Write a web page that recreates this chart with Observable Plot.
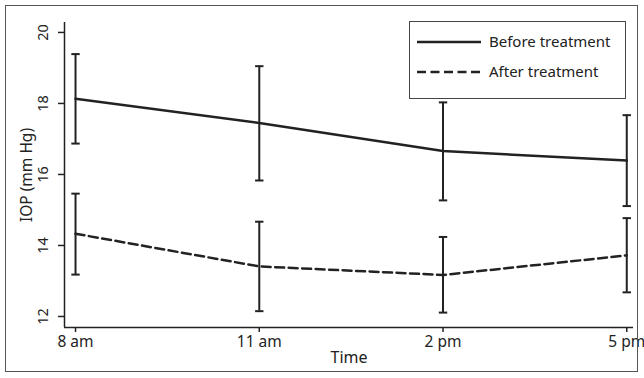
<!DOCTYPE html>
<html>
<head>
<meta charset="utf-8">
<script src="https://cdn.jsdelivr.net/npm/d3@7"></script>
<script src="https://cdn.jsdelivr.net/npm/@observablehq/plot@0.6"></script>
<style>
  html, body { margin: 0; padding: 0; background: #fff; }
  #wrap { position: relative; width: 644px; height: 378px; overflow: hidden; font-family: "Noto Sans", sans-serif; }
  #frame { position: absolute; left: 5px; top: 5px; width: 631px; height: 365px; border: 1.5px solid #555; pointer-events: none; }
  #legend { position: absolute; left: 409px; top: 21px; width: 215px; height: 76px; border: 1.5px solid #444; background: #fff; }
  #legend svg { position: absolute; left: 0; top: 0; }
  #legend .row { position: absolute; left: 79px; font-size: 15px; color: #222; line-height: 18px; }
  #chart { position: absolute; left: 0; top: 0; }
</style>
</head>
<body>
<div id="wrap">
  <div id="chart"></div>
  <div id="frame"></div>
  <div id="legend">
    <svg width="215" height="76">
      <line x1="7" x2="71" y1="20" y2="20" stroke="#222" stroke-width="2.5"/>
      <line x1="7" x2="71" y1="50" y2="50" stroke="#222" stroke-width="2.5" stroke-dasharray="9,4.5"/>
    </svg>
    <div class="row" style="top:10px">Before treatment</div>
    <div class="row" style="top:40px">After treatment</div>
  </div>
</div>
<script>
// Time of day (hours) and labels
const hours = [8, 11, 14, 17];
const timeLabels = ["8 am", "11 am", "2 pm", "5 pm"];
const seriesNames = ["Before treatment", "After treatment"];

// Mean IOP and error-bar limits (mm Hg)
const beforeMean = [18.13, 17.45, 16.66, 16.39];
const beforeLow  = [16.87, 15.83, 15.27, 15.11];
const beforeHigh = [19.39, 19.05, 18.03, 17.67];
const afterMean  = [14.33, 13.41, 13.17, 13.72];
const afterLow   = [13.18, 12.15, 12.11, 12.68];
const afterHigh  = [15.46, 14.67, 14.24, 14.77];

const yTicks = [12, 14, 16, 18, 20];
const xTitle = "Time";
const yTitle = "IOP (mm Hg)";

const rows = [];
hours.forEach((h, i) => {
  rows.push({series: seriesNames[0], t: h, mean: beforeMean[i], lo: beforeLow[i], hi: beforeHigh[i]});
  rows.push({series: seriesNames[1], t: h, mean: afterMean[i], lo: afterLow[i], hi: afterHigh[i]});
});
const caps = rows.flatMap(d => [{t: d.t, v: d.lo}, {t: d.t, v: d.hi}]);

const capSymbol = {
  draw(context, size) {
    const w = Math.sqrt(size / Math.PI);
    context.moveTo(-w, 0);
    context.lineTo(w, 0);
  }
};

const ink = "#222";
const xDomain = [7.82, 17.11];
const yDomain = [11.69, 20.28];

const chart = Plot.plot({
  width: 644,
  height: 378,
  marginLeft: 64,
  marginRight: 11,
  marginTop: 22,
  marginBottom: 51,
  style: {fontFamily: "Noto Sans, sans-serif", color: ink, background: "transparent"},
  x: {domain: xDomain},
  y: {domain: yDomain},
  marks: [
    Plot.axisX({ticks: hours, tickFormat: (d) => timeLabels[hours.indexOf(d)], tickSize: 5, tickPadding: 3, fontSize: 15.5, label: null, stroke: ink, strokeWidth: 1.5}),
    Plot.axisY({ticks: yTicks, tickSize: 6, tickPadding: 11, tickRotate: -90, fontSize: 14.5, label: null, stroke: ink, strokeWidth: 1.5}),
    Plot.text([xTitle], {frameAnchor: "bottom", dy: 30, lineAnchor: "middle", fontSize: 16, fill: ink}),
    Plot.text([yTitle], {frameAnchor: "left", dx: -37, rotate: -90, textAnchor: "middle", lineAnchor: "middle", fontSize: 15.5, fill: ink}),
    Plot.ruleX([xDomain[0]], {stroke: ink, strokeWidth: 1.5}),
    Plot.ruleY([yDomain[0]], {stroke: ink, strokeWidth: 1.5}),
    Plot.ruleX(rows, {x: "t", y1: "lo", y2: "hi", stroke: ink, strokeWidth: 2}),
    Plot.dot(caps, {x: "t", y: "v", symbol: capSymbol, r: 4.2, stroke: ink, strokeWidth: 2, fill: "none"}),
    Plot.line(rows.filter(d => d.series === seriesNames[0]), {x: "t", y: "mean", stroke: ink, strokeWidth: 2.5}),
    Plot.line(rows.filter(d => d.series === seriesNames[1]), {x: "t", y: "mean", stroke: ink, strokeWidth: 2.5, strokeDasharray: "9,4.5"})
  ]
});
document.getElementById("chart").appendChild(chart);
</script>
</body>
</html>
